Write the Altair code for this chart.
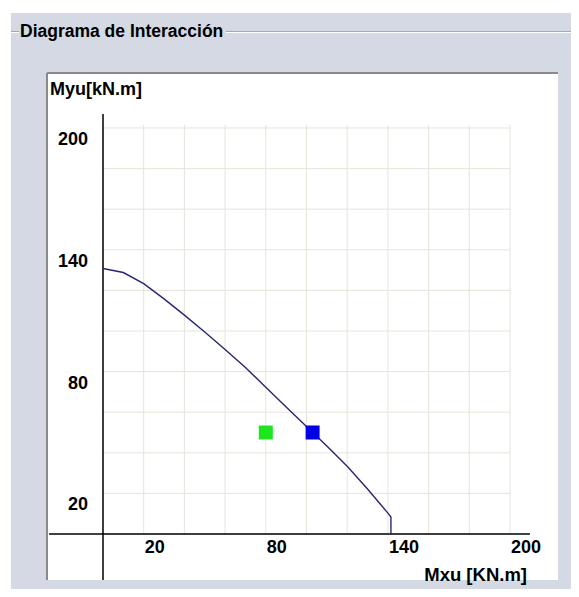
import altair as alt
import pandas as pd

# ---- data -------------------------------------------------------------------
# Interaction curve (Mxu, Myu) in kN.m
curve_mx = [0.0, 10.0, 20.0, 30.0, 40.0, 50.0, 60.0, 70.0, 80.0, 90.0, 100.0, 110.0, 120.0, 130.0, 140.0, 141.5, 141.5]
curve_my = [130.8, 128.8, 123.3, 115.8, 107.8, 99.5, 90.9, 82.0, 72.3, 62.6, 53.0, 43.3, 33.4, 22.2, 10.3, 8.4, 0.0]

# Design points
pt_name = ["solicitación", "capacidad"]
pt_mx = [80.0, 103.0]
pt_my = [50.0, 50.0]
pt_colors = ["#1ee61e", "#0000e6"]

# Grid and tick labels
grid_vals = [0, 20, 40, 60, 80, 100, 120, 140, 160, 180, 200]
tick_vals = [20, 80, 140, 200]

X_DOMAIN = [-27.03, 223.6]
Y_DOMAIN = [-22.66, 226.6]
FONT = "Liberation Sans"
BG = "#d4d9e3"
GRID = "#e6e4da"

curve_df = pd.DataFrame({"mx": curve_mx, "my": curve_my, "i": list(range(len(curve_mx)))})
pts_df = pd.DataFrame({"name": pt_name, "mx": pt_mx, "my": pt_my})
grid_df = pd.DataFrame({"g": grid_vals, "lo": [0] * len(grid_vals), "hiy": [201.5] * len(grid_vals), "hix": [200] * len(grid_vals)})
tick_df = pd.DataFrame({"t": tick_vals, "zero": [0] * len(tick_vals), "lab": [str(v) for v in tick_vals]})
axes_df = pd.DataFrame({"zero": [0], "xlo": [-26.5], "xhi": [209.8], "ylo": [-22.66], "yhi": [206.9]})
one = pd.DataFrame({"k": [0]})

xs = alt.Scale(domain=X_DOMAIN, nice=False, zero=False)
ys = alt.Scale(domain=Y_DOMAIN, nice=False, zero=False)


def X(f):
    return alt.X(f, scale=xs, axis=None)


def Y(f):
    return alt.Y(f, scale=ys, axis=None)


# ---- decorations (dialog look) ----------------------------------------------
top_white = alt.Chart(one).mark_rect(color="white").encode(
    x=alt.value(-40), x2=alt.value(523), y=alt.value(-66), y2=alt.value(-61))
left_white = alt.Chart(one).mark_rect(color="white").encode(
    x=alt.value(-40), x2=alt.value(-37), y=alt.value(-66), y2=alt.value(515))

gb_dark_l = alt.Chart(one).mark_rule(color="#a4a8b0", strokeWidth=1).encode(
    x=alt.value(-37), x2=alt.value(-29), y=alt.value(-42.5))
gb_light_l = alt.Chart(one).mark_rule(color="#ffffff", strokeWidth=1).encode(
    x=alt.value(-37), x2=alt.value(-29), y=alt.value(-41.5))
gb_dark_r = alt.Chart(one).mark_rule(color="#a4a8b0", strokeWidth=1).encode(
    x=alt.value(178), x2=alt.value(523), y=alt.value(-42.5))
gb_light_r = alt.Chart(one).mark_rule(color="#ffffff", strokeWidth=1).encode(
    x=alt.value(178), x2=alt.value(523), y=alt.value(-41.5))
gb_title = alt.Chart(one).mark_text(
    text="Diagrama de Interacción", align="left", baseline="middle",
    font=FONT, fontSize=17.5, fontWeight="bold", color="#000000").encode(
    x=alt.value(-28), y=alt.value(-42))

panel_top = alt.Chart(one).mark_rule(color="#8a8a8a", strokeWidth=2).encode(
    x=alt.value(-1), x2=alt.value(510), y=alt.value(-1))
panel_left = alt.Chart(one).mark_rule(color="#8a8a8a", strokeWidth=2).encode(
    x=alt.value(-1), y=alt.value(-1), y2=alt.value(506))

# ---- grid --------------------------------------------------------------------
vgrid = alt.Chart(grid_df).mark_rule(color=GRID, strokeWidth=1).encode(
    x=X("g:Q"), y=Y("lo:Q"), y2="hiy:Q")
hgrid = alt.Chart(grid_df).mark_rule(color=GRID, strokeWidth=1).encode(
    y=Y("g:Q"), x=X("lo:Q"), x2="hix:Q")

# ---- axes lines ------------------------------------------------------------
xaxis = alt.Chart(axes_df).mark_rule(color="#000000", strokeWidth=1.5).encode(
    y=Y("zero:Q"), x=X("xlo:Q"), x2="xhi:Q")
yaxis = alt.Chart(axes_df).mark_rule(color="#000000", strokeWidth=1.5).encode(
    x=X("zero:Q"), y=Y("ylo:Q"), y2="yhi:Q")

xlabels = alt.Chart(tick_df).mark_text(
    align="left", baseline="top", dx=1, dy=5,
    font=FONT, fontSize=18, fontWeight="bold", color="#000000").encode(
    x=X("t:Q"), y=Y("zero:Q"), text="lab:N")
ylabels = alt.Chart(tick_df).mark_text(
    align="right", baseline="top", dx=-15, dy=3,
    font=FONT, fontSize=18, fontWeight="bold", color="#000000").encode(
    x=X("zero:Q"), y=Y("t:Q"), text="lab:N")

ytitle = alt.Chart(one).mark_text(
    text="Myu[kN.m]", align="left", baseline="top",
    font=FONT, fontSize=18, fontWeight="bold", color="#000000").encode(
    x=alt.value(2), y=alt.value(7))
xtitle = alt.Chart(one).mark_text(
    text="Mxu [KN.m]", align="right", baseline="top",
    font=FONT, fontSize=18.5, fontWeight="bold", color="#000000").encode(
    x=alt.value(479), y=alt.value(492))

# ---- data marks ------------------------------------------------------------
curve = alt.Chart(curve_df).mark_line(color="#262673", strokeWidth=1.4).encode(
    x=X("mx:Q"), y=Y("my:Q"), order="i:Q")

points = alt.Chart(pts_df).mark_square(size=196, opacity=1, strokeWidth=0).encode(
    x=X("mx:Q"), y=Y("my:Q"),
    color=alt.Color("name:N", scale=alt.Scale(domain=pt_name, range=pt_colors), legend=None))

chart = alt.layer(
    top_white, left_white,
    gb_dark_l, gb_light_l, gb_dark_r, gb_light_r, gb_title,
    vgrid, hgrid, panel_top, panel_left,
    xaxis, yaxis, xlabels, ylabels, ytitle, xtitle,
    curve, points,
).properties(
    width=510, height=506,
    autosize=alt.AutoSizeParams(type="none"),
    padding={"left": 40, "top": 66, "right": 13, "bottom": 9},
    background=BG,
).configure_view(fill="white", strokeWidth=0)

chart.save("out.html", embed_options={"renderer": "svg", "actions": False})
